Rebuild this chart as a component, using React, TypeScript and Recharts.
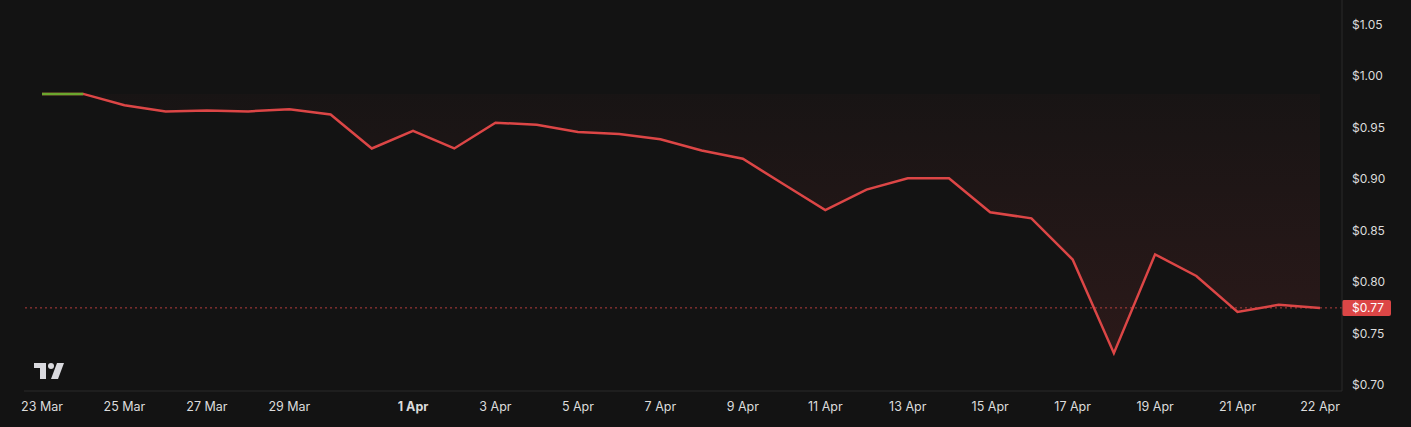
import React from 'react';
import {
  ComposedChart,
  Area,
  Line,
  XAxis,
  YAxis,
  ReferenceLine,
} from 'recharts';

// daily closes, 23 Mar -> 22 Apr
const prices = [
  0.983, 0.983, 0.972, 0.966, 0.967, 0.966, 0.968, 0.963, 0.93, 0.947,
  0.93, 0.955, 0.953, 0.946, 0.944, 0.939, 0.928, 0.92, 0.895, 0.87,
  0.89, 0.901, 0.901, 0.868, 0.862, 0.822, 0.731, 0.827, 0.806, 0.771,
  0.778, 0.775,
];

// first segment sits on the baseline and is drawn green
const upPrices = [0.983, 0.983];

const tickIdx = [0, 2, 4, 6, 9, 11, 13, 15, 17, 19, 21, 23, 25, 27, 29, 31];
const tickLabels = [
  '23 Mar', '25 Mar', '27 Mar', '29 Mar', '1 Apr', '3 Apr', '5 Apr', '7 Apr',
  '9 Apr', '11 Apr', '13 Apr', '15 Apr', '17 Apr', '19 Apr', '21 Apr', '22 Apr',
];

const priceTicks = [0.7, 0.75, 0.8, 0.85, 0.9, 0.95, 1.0, 1.05];
const baseline = 0.983;
const lastPrice = 0.775;
const lastLabel = '$0.77';

const BG = '#131313';
const RED = '#dc4646';
const GREEN = '#6aa72e';
const TEXT = '#dcdcdc';
const GRID = '#2a2a2a';
const FONT = 'Inter, "Noto Sans", sans-serif';

const data = prices.map((p, i) => ({
  i,
  price: p,
  up: i < upPrices.length ? upPrices[i] : null,
}));

function XTick(props: any) {
  const { x, y, payload } = props;
  const label = tickLabels[tickIdx.indexOf(payload.value)] ?? '';
  return (
    <text
      x={x}
      y={y + 18}
      textAnchor="middle"
      fill={TEXT}
      fontSize={12.5}
      fontFamily={FONT}
      fontWeight={label === '1 Apr' ? 700 : 400}
    >
      {label}
    </text>
  );
}

function YTick(props: any) {
  const { y, payload } = props;
  return (
    <text x={1352} y={y + 4} textAnchor="start" fill={TEXT} fontSize={12} fontFamily={FONT}>
      ${payload.value.toFixed(2)}
    </text>
  );
}

function PriceTag(props: any) {
  const vb = props.viewBox || {};
  const x = vb.x + vb.width;
  const y = vb.y;
  return (
    <g>
      <rect x={x} y={y - 8} width={49} height={16} rx={2} fill={RED} />
      <text x={x + 10} y={y + 4} fill="#ffffff" fontSize={12} fontFamily={FONT}>
        {lastLabel}
      </text>
    </g>
  );
}

export default function App() {
  return (
    <div
      style={{
        position: 'absolute',
        left: 0,
        top: 0,
        width: 1411,
        height: 427,
        background: BG,
      }}
    >
      <ComposedChart
        width={1411}
        height={427}
        data={data}
        margin={{ top: 0, right: 0, bottom: 0, left: 24 }}
      >
        <defs>
          <linearGradient id="downFill" x1="0" y1="0" x2="0" y2="1">
            <stop offset="0%" stopColor={RED} stopOpacity={0.04} />
            <stop offset="100%" stopColor={RED} stopOpacity={0.2} />
          </linearGradient>
        </defs>
        <XAxis
          dataKey="i"
          type="number"
          domain={[0, 31]}
          ticks={tickIdx}
          interval={0}
          padding={{ left: 18, right: 22 }}
          height={36}
          tickLine={false}
          tickSize={0}
          axisLine={{ stroke: GRID }}
          tick={<XTick />}
        />
        <YAxis
          orientation="right"
          width={69}
          domain={[0.6942, 1.0743]}
          ticks={priceTicks}
          interval={0}
          tickLine={false}
          tickSize={0}
          axisLine={{ stroke: GRID }}
          tick={<YTick />}
          allowDataOverflow
        />
        <Area
          type="linear"
          dataKey="price"
          baseValue={baseline}
          stroke={RED}
          strokeWidth={2.5}
          fill="url(#downFill)"
          isAnimationActive={false}
          dot={false}
          activeDot={false}
        />
        <Line
          type="linear"
          dataKey="up"
          stroke={GREEN}
          strokeWidth={2.5}
          dot={false}
          activeDot={false}
          connectNulls={false}
          isAnimationActive={false}
        />
        <ReferenceLine
          y={lastPrice}
          stroke={RED}
          strokeOpacity={0.8}
          strokeDasharray="2 3"
          strokeWidth={1}
          label={<PriceTag />}
        />
      </ComposedChart>
      <svg
        width={40}
        height={24}
        style={{ position: 'absolute', left: 30, top: 360 }}
      >
        <g fill="#d9d9de">
          <rect x={4} y={3} width={12} height={5} />
          <rect x={10} y={3} width={6} height={16} />
          <circle cx={21} cy={6} r={3} />
          <polygon points="27,3 34,3 28,19 21,19" />
        </g>
      </svg>
    </div>
  );
}
